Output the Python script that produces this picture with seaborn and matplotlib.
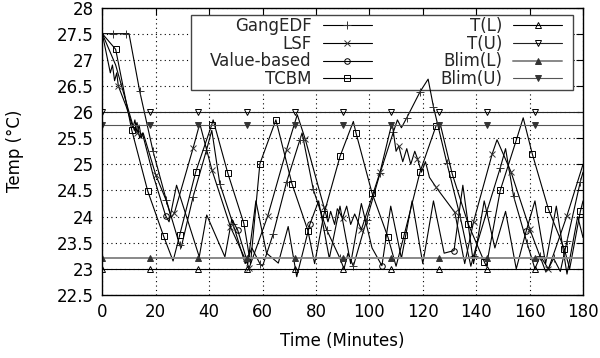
import matplotlib
matplotlib.use("Agg")
import matplotlib.pyplot as plt
from matplotlib.lines import Line2D
from matplotlib.patches import Rectangle
from matplotlib.ticker import FormatStrFormatter, MultipleLocator
import pandas as pd
import seaborn as sns

# temperature traces, minutes vs deg C (vertices)
gang_t = [0, 4, 9, 10, 14, 19, 24, 29, 29.5, 34, 39, 41, 44, 49, 53.5, 54, 56, 59, 60,
          64, 69, 74, 74.8, 79, 84, 89, 90.5, 92, 94, 99, 104, 109, 110.5, 112, 114,
          119, 122, 124, 129, 134, 138, 139, 144, 149, 151, 154, 159, 162, 164, 167,
          169, 171.5, 174, 179, 180]
gang_y = [27.5, 27.5, 27.5, 27.5, 26.4, 25.25, 24.31, 23.45, 23.4, 24.38, 25.27, 25.65, 24.63,
          23.85, 23.1, 23.15, 23.4, 23.1, 23.05, 23.67, 24.66, 25.47, 25.6, 24.52, 23.75,
          23.2, 23.0, 23.3, 23.05, 23.94, 24.83, 25.62, 25.85, 25.7, 25.89, 26.39, 26.63,
          26.1, 25.03, 24.0, 23.05, 23.25, 24.1, 24.93, 25.3, 24.39, 23.5, 23.0, 23.25,
          23.0, 23.2, 22.95, 23.53, 24.67, 24.85]
gang_marks = [4 + 5 * k for k in range(36)]

lsf_t = [0, 2, 3, 3.8, 4.6, 5.4, 6, 9, 11.5, 12.2, 13, 13.8, 14.6, 15.3, 20, 24, 25.8,
         27, 34, 36.5, 41, 48, 55, 62, 69, 73, 76, 83, 84.5, 85.5, 87, 88, 90, 91.5, 93,
         94.5, 97, 104, 108.5, 110, 111, 112.5, 114, 115.5, 117, 118, 119.5, 121, 122.5,
         125, 132, 135.7, 139, 146, 147.8, 153, 160, 166, 167, 174, 180]
lsf_y = [27.5, 27.0, 26.75, 26.9, 26.6, 26.75, 26.5, 26.1, 25.7, 25.85, 25.6, 25.75, 25.5,
         25.6, 24.8, 24.3, 23.98, 24.07, 25.31, 25.78, 24.9, 23.8, 23.02, 24.02, 25.28,
         25.95, 25.48, 24.18, 23.9, 24.1, 23.85, 24.15, 23.97, 24.2, 23.85, 24.05, 23.75,
         24.85, 25.8, 25.25, 25.35, 25.05, 25.3, 25.0, 25.25, 25.11, 24.85, 25.05, 24.75,
         24.56, 24.08, 23.1, 23.9, 25.2, 25.47, 24.86, 23.77, 22.95, 22.99, 24.02, 25.0]
lsf_marks = [6 + 7 * k for k in range(25)]

value_t = [0, 5, 10, 12, 13, 14, 15, 19, 23.7, 25, 27.8, 36.3, 39.1, 45.9, 48.5, 50.7,
           54.5, 57.5, 61.5, 65.9, 69.6, 72.8, 77.7, 81, 85, 89, 93, 97, 101, 104.7,
           108, 112, 116, 120, 124, 128, 131.7, 135, 139, 143, 147, 151, 155, 158.7,
           162, 166, 170, 174, 178, 180]
value_y = [27.5, 26.9, 26.0, 25.65, 25.8, 25.5, 25.6, 24.8, 24.02, 23.9, 24.6, 23.23, 24.03,
           23.23, 23.95, 23.74, 23.1, 24.3, 23.3, 23.11, 23.81, 22.85, 23.85, 24.3, 23.2,
           24.2, 23.1, 24.25, 23.4, 23.06, 24.2, 23.2, 24.3, 23.1, 24.3, 23.3, 23.35, 24.6,
           23.1, 24.3, 23.4, 24.1, 23.0, 23.72, 24.3, 23.1, 24.2, 22.9, 24.0, 23.6]
value_marks = [23.7, 50.7, 77.7, 104.7, 131.7, 158.7]

tcbm_t = [0, 5, 11, 17, 23, 26.5, 29, 35, 41, 41.5, 47, 53, 55.5, 59, 65, 71, 77, 79.5,
          83, 89, 94, 95, 101, 107, 110, 113, 119, 125, 126.4, 131, 137, 143, 143.8, 149,
          155, 157.6, 161, 167, 173, 175, 179, 180]
tcbm_y = [27.5, 27.2, 25.66, 24.49, 23.62, 23.15, 23.65, 24.86, 25.76, 25.85, 24.83, 23.87,
          23.1, 25.01, 25.85, 24.63, 23.73, 23.1, 24.05, 25.15, 25.82, 25.6, 24.45, 23.6,
          23.05, 23.64, 24.86, 25.74, 25.8, 24.82, 23.86, 23.14, 23.05, 24.5, 25.46, 25.89,
          25.2, 24.15, 23.38, 23.0, 24.1, 24.3]
tcbm_marks = [5 + 6 * k for k in range(30)]

# comfort band and buffer limits
limit_t = [0, 18, 36, 54, 72, 90, 108, 126, 144, 162, 180]
limit_marks = [0, 18, 36, 54, 72, 90, 108, 126, 144, 162]
t_low, t_up = 23.0, 26.0
blim_low, blim_up = 23.2, 25.75

labels = ["GangEDF", "LSF", "Value-based", "TCBM", "T(L)", "T(U)", "Blim(L)", "Blim(U)"]


def mark_index(ts, marks):
    return [i for i, v in enumerate(ts) if v in marks]


sns.set_theme(style="white")
plt.rcParams["font.family"] = ["DejaVu Sans"]

fig, ax = plt.subplots(figsize=(6, 3.58), dpi=100)
fig.subplots_adjust(left=0.1705, right=0.9717, top=0.979, bottom=0.176)

series = [
    (gang_t, gang_y, gang_marks, dict(marker="+", ms=6, color="black")),
    (lsf_t, lsf_y, lsf_marks, dict(marker="x", ms=4.5, color="black")),
    (value_t, value_y, value_marks, dict(marker="o", ms=4, color="black", mfc="none")),
    (tcbm_t, tcbm_y, tcbm_marks, dict(marker="s", ms=4, color="black", mfc="none")),
    (limit_t, [t_low] * len(limit_t), limit_marks, dict(marker="^", ms=4, color="black", mfc="none")),
    (limit_t, [t_up] * len(limit_t), limit_marks, dict(marker="v", ms=4, color="#222222", mfc="none")),
    (limit_t, [blim_low] * len(limit_t), limit_marks, dict(marker="^", ms=4.5, color="#888888", mfc="#333333")),
    (limit_t, [blim_up] * len(limit_t), limit_marks, dict(marker="v", ms=4.5, color="#555555", mfc="#333333")),
]

handles = []
for (ts, ys, marks, style), lab in zip(series, labels):
    df = pd.DataFrame({"t": ts, "y": ys})
    sty = dict(style)
    col = sty.pop("color")
    mfc = sty.pop("mfc", "black")
    lw = 1.4 if lab == "Blim(L)" else 0.8
    mec = "black" if mfc == "none" else "#333333"
    sns.lineplot(data=df, x="t", y="y", ax=ax, color=col, lw=lw, sort=False, estimator=None,
                 markevery=mark_index(ts, marks), markerfacecolor=mfc,
                 markeredgecolor=mec, markeredgewidth=0.7, legend=False, zorder=2, **sty)
    handles.append(Line2D([], [], color=col, lw=lw, markerfacecolor=mfc,
                          markeredgecolor=mec, markeredgewidth=0.7, **sty))

ax.set_xlim(0, 180)
ax.set_ylim(22.5, 28)
ax.xaxis.set_major_locator(MultipleLocator(20))
ax.yaxis.set_major_locator(MultipleLocator(0.5))
ax.yaxis.set_major_formatter(FormatStrFormatter("%g"))
ax.set_axisbelow(True)
ax.grid(True, color="black", linestyle=(0, (1, 3)), linewidth=0.8)
ax.tick_params(direction="in", top=True, right=True, length=5, width=0.8,
               labelsize=12, colors="black", pad=6)
for sp in ax.spines.values():
    sp.set_color("black")
    sp.set_linewidth(1.0)

ax.set_xlabel("Time (Minutes)", fontsize=12, color="black", labelpad=8)
ax.set_ylabel("Temp (°C)", fontsize=12, color="black", labelpad=24)

# key box, white over the grid but under the traces
box = Rectangle((0.184, 0.713), 0.7946, 0.261, transform=ax.transAxes, facecolor="white",
                edgecolor="#444444", lw=1.0, zorder=1.5)
ax.add_patch(box)
leg = ax.legend(handles, labels, ncol=2, loc="upper right", bbox_to_anchor=(0.974, 0.996),
                markerfirst=False, frameon=False, fontsize=12, handlelength=2.95,
                handletextpad=0.66, columnspacing=4.1, labelspacing=-0.02, borderpad=0)
leg.set_zorder(3)

fig.savefig("out.png", dpi=100)
